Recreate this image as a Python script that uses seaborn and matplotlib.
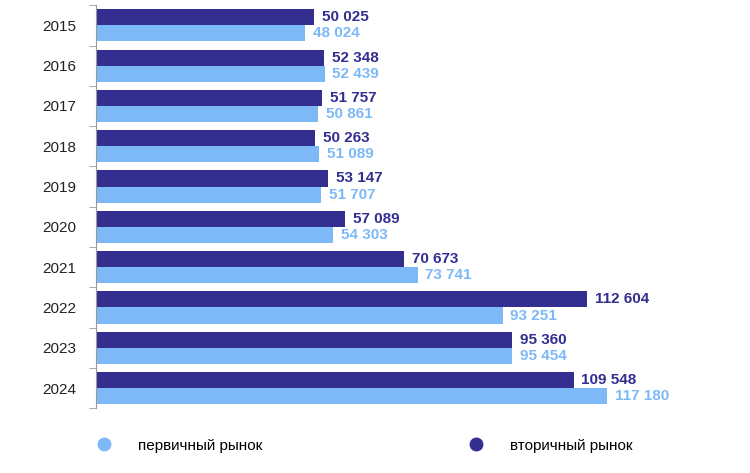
import matplotlib
matplotlib.use("Agg")
import matplotlib.pyplot as plt
from matplotlib.lines import Line2D
import numpy as np
import pandas as pd
import seaborn as sns

years = ["2015", "2016", "2017", "2018", "2019", "2020", "2021", "2022", "2023", "2024"]
secondary = [50025, 52348, 51757, 50263, 53147, 57089, 70673, 112604, 95360, 109548]
primary = [48024, 52439, 50861, 51089, 51707, 54303, 73741, 93251, 95454, 117180]

NAVY = "#332e8f"
LIGHT = "#7db9f7"
sec_name = "вторичный рынок"
pri_name = "первичный рынок"

df = pd.DataFrame({
    "year": years * 2,
    "value": secondary + primary,
    "market": [sec_name] * len(years) + [pri_name] * len(years),
})

plt.rcParams["font.family"] = "Liberation Sans"
fig = plt.figure(figsize=(7.5, 4.73), dpi=100)
ax = fig.add_axes([0.128, 0.137, 0.872, 0.852])

sns.barplot(data=df, x="value", y="year", hue="market", orient="h",
            hue_order=[sec_name, pri_name], palette=[NAVY, LIGHT],
            width=0.8, saturation=1, legend=False, ax=ax)

def fmt(v):
    return f"{v:,}".replace(",", " ")

for i in range(len(years)):
    ax.text(secondary[i] + 1800, i - 0.2, fmt(secondary[i]), va="center",
            ha="left", color=NAVY, fontsize=11, fontweight="bold")
    ax.text(primary[i] + 1800, i + 0.2, fmt(primary[i]), va="center",
            ha="left", color=LIGHT, fontsize=11, fontweight="bold")

ax.set_xlim(0, 150000)
ax.set_ylim(len(years) - 0.5, -0.5)
ax.set_xlabel("")
ax.set_ylabel("")
ax.set_xticks([])
for s in ["top", "right", "bottom"]:
    ax.spines[s].set_visible(False)
ax.spines["left"].set_color("#999999")
ax.tick_params(axis="y", length=0, labelsize=11, colors="#222222", pad=14)
ax.set_yticks(np.arange(len(years) + 1) - 0.5, minor=True)
ax.tick_params(axis="y", which="minor", length=5, color="#999999")

handles = [
    Line2D([], [], marker="o", linestyle="", markersize=9, color=LIGHT, label=pri_name),
    Line2D([], [], marker="o", linestyle="", markersize=9, color=NAVY, label=sec_name),
]
fig.legend(handles=handles, loc="center left", bbox_to_anchor=(0.1, 0.058),
           ncol=2, frameon=False, fontsize=11, columnspacing=13, handletextpad=1.2)

fig.savefig("out.png", dpi=100)
